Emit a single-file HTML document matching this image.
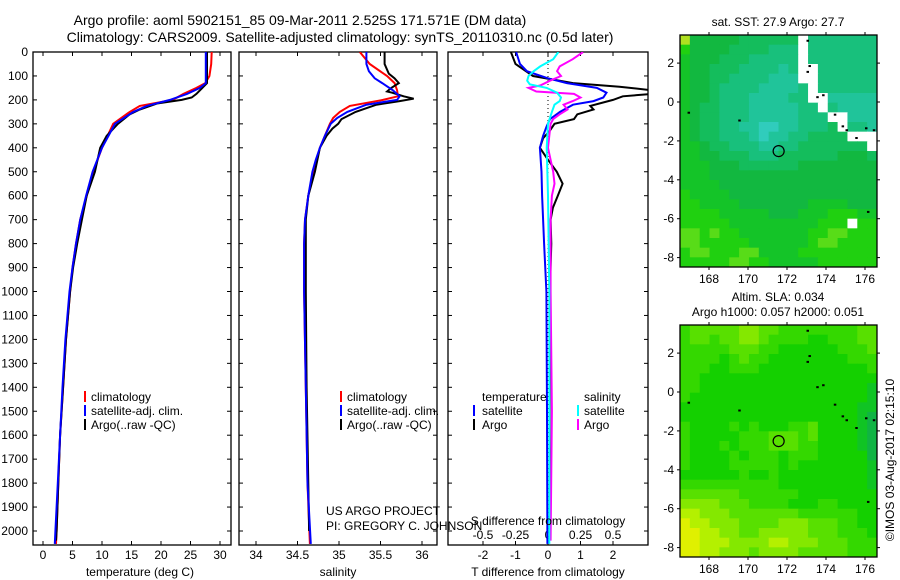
<!DOCTYPE html>
<html><head><meta charset="utf-8">
<style>
html,body{margin:0;padding:0;background:#fff;}
svg{display:block;font-family:"Liberation Sans",sans-serif;}
</style></head>
<body>
<svg id="fig" width="900" height="580" viewBox="0 0 900 580" xmlns="http://www.w3.org/2000/svg">
<text x="300" y="25" font-size="14" text-anchor="middle">Argo profile: aoml 5902151_85 09-Mar-2011 2.525S 171.571E (DM data)</text>
<text x="340" y="42" font-size="14" text-anchor="middle">Climatology: CARS2009. Satellite-adjusted climatology: synTS_20110310.nc (0.5d later)</text>
<g id="plots"></g>
</svg>
<script>
// ---------- profile data ----------
const depthTicks = [0,100,200,300,400,500,600,700,800,900,1000,1100,1200,1300,1400,1500,1600,1700,1800,1900,2000];
const tempTicks = [0,5,10,15,20,25,30];
const salTicks = [34,34.5,35,35.5,36];
const salTickLabels = ["34","34.5","35","35.5","36"];
const tdiffTicks = [-2,-1,0,1,2];
const sdiffTicks = [-0.5,-0.25,0,0.25,0.5];
const sdiffTickLabels = ["-0.5","-0.25","0","0.25","0.5"];

const tempClimDepth = [0,50,100,130,150,175,200,225,250,300,400,500,600,700,800,900,1000,1200,1400,1600,1800,2000,2054];
const tempClim = [28.6,28.5,28.2,27.5,26,23.8,22,16.4,14.7,11.9,10,8.5,7.4,6.3,5.6,5,4.6,3.9,3.4,2.9,2.6,2.3,2.2];
const tempSatDepth = [0,50,100,130,150,175,200,225,250,300,400,500,600,700,800,900,1000,1200,1400,1600,1800,2000,2054];
const tempSat = [27.6,27.6,27.6,27.6,26.6,24.4,21.5,17.6,15.3,12.2,10,8.4,7.3,6.3,5.6,5,4.5,3.8,3.3,2.9,2.5,2.1,2.0];
const tempArgoDepth = [0,50,100,130,150,175,190,200,215,240,260,300,350,400,500,600,700,800,900,1000,1200,1400,1600,1800,2000,2040];
const tempArgo = [27.8,27.8,27.8,27.8,27,26,25.2,23.5,19.3,16.4,14.7,12.7,10.8,9.7,8.8,7.4,6.6,5.8,5.1,4.6,3.9,3.4,2.9,2.6,2.3,2.2];

const salClimDepth = [0,50,100,130,160,185,200,225,250,275,300,350,400,450,500,600,700,800,1000,1400,1800,2054];
const salClim = [35.25,35.37,35.58,35.67,35.70,35.71,35.53,35.13,35.01,34.93,34.89,34.83,34.77,34.73,34.69,34.63,34.59,34.58,34.58,34.6,34.62,34.65];
const salSatDepth = [0,50,80,110,130,160,185,200,220,250,275,300,350,400,450,500,600,700,800,1000,1400,1800,2054];
const salSat = [35.33,35.33,35.36,35.43,35.52,35.65,35.73,35.7,35.33,35.1,34.98,34.9,34.83,34.77,34.72,34.68,34.63,34.59,34.58,34.58,34.6,34.62,34.66];
const salArgoDepth = [0,50,90,110,130,150,165,170,185,195,205,220,250,280,300,320,350,400,500,600,700,1000,1400,1800,2000];
const salArgo = [35.55,35.55,35.6,35.67,35.72,35.63,35.58,35.64,35.78,35.9,35.73,35.45,35.2,35.03,34.99,34.92,34.85,34.77,34.71,34.63,34.6,34.6,34.61,34.63,34.64];

const tdArgoDepth = [0,50,100,130,145,160,175,185,200,225,240,260,280,300,330,360,400,450,500,550,600,650,700,800,900,1000,1500,2040];
const tdArgo = [-1.14,-1.0,-0.46,0.77,2.2,3.2,3.2,2.3,2.0,1.3,1.4,0.9,0.8,0.2,0.05,-0.15,-0.25,0,0.27,0.45,0.3,0.15,0.08,0.1,0.08,0.06,0.05,0.04];
const tdSatDepth = [0,50,80,110,130,150,170,190,205,220,250,280,310,350,400,500,600,800,1000,1500,2054];
const tdSat = [-0.98,-0.86,-0.65,0,0.58,1.5,1.8,1.7,1.4,0.77,0.37,0.06,-0.04,-0.15,-0.25,-0.2,-0.18,-0.12,-0.05,-0.03,-0.02];
const sdArgoDepth = [0,30,60,80,100,120,140,150,165,175,190,205,220,240,260,280,300,400,450,500,550,600,700,1000,1500,2040];
const sdArgo = [0.27,0.19,0.09,0.07,0.1,0.015,-0.06,-0.15,-0.09,0.2,0.25,0.19,0.12,0.15,0.09,0.04,0.02,0.0,0.02,0.04,0.05,0.03,0.02,0.02,0.03,0.02];
const sdSatDepth = [0,30,60,80,100,120,135,150,170,190,205,220,250,300,400,600,1000,1500,2054];
const sdSat = [0.08,0.04,-0.06,-0.11,-0.15,-0.16,-0.14,-0.01,0.07,0.1,0.09,0.05,0.03,0,-0.01,0,0.01,0.01,0.01];

// ---------- map data (lat rows top->bottom, lon cols left->right) ----------
const mapLonTicks = [168,170,172,174,176];
const mapLatTicks = [2,0,-2,-4,-6,-8];
const sstRows = [
"044444555555W6666666","244445555666W6666666","344455566666W6666666","344555666676WW666666",
"344556666777WW666666","3445666677776W666666","3445666777766WW77777","34556667777766W67777",
"345566677777666WW777","3455667788776665W667","34556667877665555WWW","3345566677665555555W",
"33445556665555554445","33344455555544444444","33344444444444444444","33334444444444444444",
"23333444444444444444","22333344444443333444","22223333344433322233","22222333333333222W22",
"11212233333332211222","11222223333332112222","21122211333322222222","22222112233333222222"];
const slaRows = [
"43333322334444444433","43343322344445544433","44444333445555554443","44445434455555555444",
"44455444555555555554","44555555555555555555","44555555555555555556","45555555555555555556",
"55555555555555555566","55555555555555555567","45555454555443555567","45555544433343555567",
"45554544433344555567","45555454445444555557","45555444445455555556","55555545545555555556",
"44444444445555555556","33333344444455555555","22223334444555445555","11222333333344444455",
"01122233332223334455","00112233222223334445","00111222211222333444","00112223222233333444"];
const argoLon = 171.571, argoLat = -2.525;

const NS="http://www.w3.org/2000/svg";
const root=document.getElementById('plots');
function mk(tag,attrs,parent){const e=document.createElementNS(NS,tag);for(const k in attrs)e.setAttribute(k,attrs[k]);(parent||root).appendChild(e);return e;}

const PT=52, PB=545;
const yD = d => 52 + d*0.2395;
const panels = {
  temp:{x0:33,x1:231, f:v=>43+v*5.9},
  sal:{x0:239,x1:437, f:v=>256+(v-34)*83},
  diff:{x0:448,x1:648, f:v=>548+v*32.5},
};
const sdx = v => 548 + v*130;

function frame(p,name){
  const r=mk('rect',{x:p.x0,y:PT,width:p.x1-p.x0,height:PB-PT,fill:'none',stroke:'#000','stroke-width':1.3});
  
  
  depthTicks.forEach(d=>{
    const y=yD(d);
    mk('line',{x1:p.x0,x2:p.x0+4,y1:y,y2:y,stroke:'#000'});
    mk('line',{x1:p.x1-4,x2:p.x1,y1:y,y2:y,stroke:'#000'});
  });
}
function xticks(p,ticks,labels,name,labelY){
  ticks.forEach((v,i)=>{
    const x=p.f(v);
    mk('line',{x1:x,x2:x,y1:PT,y2:PT+4,stroke:'#000'});
    mk('line',{x1:x,x2:x,y1:PB-4,y2:PB,stroke:'#000'});
    const t=mk('text',{x:x,y:labelY,'font-size':12,'text-anchor':'middle'});
    t.textContent=labels?labels[i]:String(v);
    
    
  });
}
function line(p,xs,ds,fx,color,name,w){
  const pts=xs.map((v,i)=>fx(v).toFixed(1)+','+yD(ds[i]).toFixed(1)).join(' ');
  const l=mk('polyline',{points:pts,fill:'none',stroke:color,'stroke-width':w||2,'clip-path':'url(#clip-'+p+')'});
  
  
}
const defs=mk('defs',{});
for(const k in panels){const cp=mk('clipPath',{id:'clip-'+k},defs);mk('rect',{x:panels[k].x0,y:PT,width:panels[k].x1-panels[k].x0,height:PB-PT},cp);}

depthTicks.forEach(d=>{
  const t=mk('text',{x:28,y:yD(d)+4,'font-size':12,'text-anchor':'end'});
  t.textContent=String(d);
  
  
});

frame(panels.temp,'temperature-panel');
xticks(panels.temp,tempTicks,null,'temperature',559);
line('temp',tempClim,tempClimDepth,panels.temp.f,'#f00','temp-climatology-line');
line('temp',tempArgo,tempArgoDepth,panels.temp.f,'#000','temp-argo-line');
line('temp',tempSat,tempSatDepth,panels.temp.f,'#00f','temp-satellite-line');

frame(panels.sal,'salinity-panel');
xticks(panels.sal,salTicks,salTickLabels,'salinity',559);
line('sal',salClim,salClimDepth,panels.sal.f,'#f00','sal-climatology-line');
line('sal',salArgo,salArgoDepth,panels.sal.f,'#000','sal-argo-line');
line('sal',salSat,salSatDepth,panels.sal.f,'#00f','sal-satellite-line');

frame(panels.diff,'difference-panel');
xticks(panels.diff,tdiffTicks,null,'t-difference',559);
mk('line',{x1:548,x2:548,y1:PT,y2:PB,stroke:'#000','stroke-dasharray':'1,3'});
sdiffTicks.forEach((v,i)=>{
  const t=mk('text',{x:sdx(v),y:539,'font-size':12,'text-anchor':'middle'});
  t.textContent=sdiffTickLabels[i];
  
  
});
line('diff',tdArgo,tdArgoDepth,panels.diff.f,'#000','t-diff-argo-line');
line('diff',tdSat,tdSatDepth,panels.diff.f,'#00f','t-diff-satellite-line');
line('diff',sdArgo,sdArgoDepth,sdx,'#f0f','s-diff-argo-line');
line('diff',sdSat,sdSatDepth,sdx,'#0ff','s-diff-satellite-line');

// ---------- maps ----------
const sstPal={'0':'#b0e020','1':'#58dc18','2':'#20d010','3':'#14c428','4':'#12b840','5':'#14bd5c','6':'#18c07c','7':'#20c49a','8':'#30ccbc','W':'#ffffff'};
const slaPal={'0':'#e0f000','1':'#b4f000','2':'#84e800','3':'#58e000','4':'#34d800','5':'#14d000','6':'#10c424','7':'#10b444'};
function drawMap(y0,rows,pal,name){
  const X0=680,X1=877,Y0=y0,Y1=y0+232;
  const lonX=l=>709+(l-168)*19.5;
  const latY=a=>y0+67+(-a)*19.45;
  const g=mk('g',{});
  
  
  const nr=rows.length,nc=rows[0].length;
  const cw=(X1-X0)/nc,ch=(Y1-Y0)/nr;
  rows.forEach((row,r)=>{[...row].forEach((c,k)=>{
    const cell=mk('rect',{x:(X0+k*cw).toFixed(2),y:(Y0+r*ch).toFixed(2),width:(cw+0.5).toFixed(2),height:(ch+0.5).toFixed(2),fill:pal[c]},g);
    
    
  });});
  mk('rect',{x:X0,y:Y0,width:X1-X0,height:Y1-Y0,fill:'none',stroke:'#000','stroke-width':1.3},g);
  mapLonTicks.forEach(l=>{
    const x=lonX(l);
    mk('line',{x1:x,x2:x,y1:Y0-3,y2:Y0,stroke:'#000'},g);
    mk('line',{x1:x,x2:x,y1:Y1,y2:Y1+3,stroke:'#000'},g);
    const t=mk('text',{x:x,y:Y1+16,'font-size':12,'text-anchor':'middle'},g);
    t.textContent=String(l);
    
    
  });
  mapLatTicks.forEach(a=>{
    const y=latY(a);
    mk('line',{x1:X0-3,x2:X0,y1:y,y2:y,stroke:'#000'},g);
    mk('line',{x1:X1,x2:X1+3,y1:y,y2:y,stroke:'#000'},g);
    const t=mk('text',{x:X0-6,y:y+4,'font-size':12,'text-anchor':'end'},g);
    t.textContent=String(a);
    
    
  });
  const coast=[[173.0,3.2],[173.1,1.9],[173.0,1.6],[173.5,0.3],[173.8,0.4],[174.4,-0.6],[174.8,-1.2],[175.0,-1.4],[175.5,-1.8],[176.0,-1.3],[176.4,-1.4],[169.5,-0.9],[166.9,-0.5],[176.1,-5.6]];
  coast.forEach(p=>mk('rect',{x:lonX(p[0]),y:latY(p[1]),width:2.5,height:2,fill:'#000'},g));
  const c=mk('circle',{cx:lonX(argoLon),cy:latY(argoLat),r:5.5,fill:'none',stroke:'#000','stroke-width':1.2},g);
  
  
}
drawMap(35,sstRows,sstPal,'sst-map');
drawMap(325,slaRows,slaPal,'sla-map');
</script>
<script>
const S=document.getElementById('fig');
function T(x,y,s,txt,name,extra){const t=document.createElementNS("http://www.w3.org/2000/svg",'text');t.setAttribute('x',x);t.setAttribute('y',y);t.setAttribute('font-size',s);if(extra)for(const k in extra)t.setAttribute(k,extra[k]);t.textContent=txt;


S.appendChild(t);return t;}
function M(x,y,c){const r=document.createElementNS("http://www.w3.org/2000/svg",'rect');r.setAttribute('x',x);r.setAttribute('y',y-10);r.setAttribute('width',2);r.setAttribute('height',11);r.setAttribute('fill',c);


S.appendChild(r);}
T(140,576,12,'temperature (deg C)','temperature-axis-title',{'text-anchor':'middle'});
T(338,576,12,'salinity','salinity-axis-title',{'text-anchor':'middle'});
T(548,576,12,'T difference from climatology','t-difference-axis-title',{'text-anchor':'middle'});
T(548,525,12,'S difference from climatology','s-difference-axis-title',{'text-anchor':'middle'});
[['climatology','#f00',401],['satellite-adj. clim.','#00f',415],['Argo(..raw -QC)','#000',429]].forEach(e=>{
  M(84,e[2],e[1]);T(91,e[2],12,e[0],'temp-legend-entry');
  M(340,e[2],e[1]);T(347,e[2],12,e[0],'sal-legend-entry');
});
T(482,401,12,'temperature','diff-legend-temperature-header');
T(584,401,12,'salinity','diff-legend-salinity-header');
M(473,415,'#00f');T(482,415,12,'satellite','diff-legend-t-satellite');
M(473,429,'#000');T(482,429,12,'Argo','diff-legend-t-argo');
M(577,415,'#0ff');T(584,415,12,'satellite','diff-legend-s-satellite');
M(577,429,'#f0f');T(584,429,12,'Argo','diff-legend-s-argo');
T(326,515,12,'US ARGO PROJECT','project-label');
T(326,530,12,'PI: GREGORY C. JOHNSON','pi-label');
T(778,26,12,'sat. SST: 27.9 Argo: 27.7','sst-map-title',{'text-anchor':'middle'});
T(778,301,12,'Altim. SLA: 0.034','sla-map-title',{'text-anchor':'middle'});
T(778,316,12,'Argo h1000: 0.057 h2000: 0.051','argo-height-title',{'text-anchor':'middle'});
T(894,460,12,'©IMOS 03-Aug-2017 02:15:10','imos-credit',{'text-anchor':'middle','transform':'rotate(-90 894 460)'});
</script>
</body></html>
